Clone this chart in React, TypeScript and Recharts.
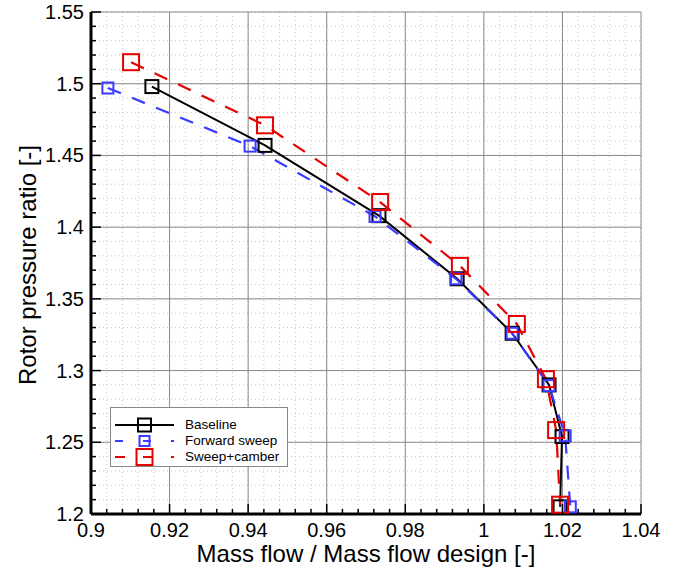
import {
  CartesianGrid,
  ComposedChart,
  Label,
  Legend,
  Line,
  XAxis,
  YAxis,
} from "recharts";

const baselineFlow = [0.9155, 0.9443, 0.9733, 0.9932, 1.0072, 1.0166, 1.0199, 1.0194];
const baselinePR = [1.498, 1.457, 1.408, 1.364, 1.326, 1.29, 1.254, 1.205];

const forwardFlow = [0.9043, 0.9405, 0.9723, 0.9929, 1.0072, 1.0166, 1.0207, 1.022];
const forwardPR = [1.497, 1.4565, 1.4075, 1.364, 1.326, 1.2895, 1.2545, 1.205];

const camberFlow = [0.9102, 0.9443, 0.9736, 0.9939, 1.0084, 1.0158, 1.0184, 1.0194];
const camberPR = [1.515, 1.471, 1.4175, 1.373, 1.3325, 1.294, 1.2585, 1.2065];

const majorX = [0.9, 0.92, 0.94, 0.96, 0.98, 1, 1.02, 1.04];
const majorY = [1.2, 1.25, 1.3, 1.35, 1.4, 1.45, 1.5, 1.55];

const FONT = "'Liberation Sans', Arial, Helvetica, sans-serif";
const BLUE = "#3b3bff";
const RED = "#e60000";

// 4 minor ticks between each pair of labelled ticks
function subdivide(major: number[]) {
  const out: number[] = [];
  for (let i = 0; i < major.length - 1; i++) {
    for (let k = 0; k < 5; k++) {
      out.push(+(major[i] + ((major[i + 1] - major[i]) * k) / 5).toFixed(4));
    }
  }
  out.push(major[major.length - 1]);
  return out;
}
const minorX = subdivide(majorX);
const minorY = subdivide(majorY);

const toPoints = (flow: number[], pr: number[]) => flow.map((f, i) => ({ flow: f, pr: pr[i] }));
const baseline = toPoints(baselineFlow, baselinePR);
const forward = toPoints(forwardFlow, forwardPR);
const camber = toPoints(camberFlow, camberPR);

const isMajor = (list: number[], v: number) => list.some((m) => Math.abs(m - v) < 1e-6);

function XTick({ x, y, payload }: any) {
  const major = isMajor(majorX, payload.value);
  return (
    <g>
      <line x1={x} y1={y} x2={x} y2={y - (major ? 10 : 5)} stroke="#000" strokeWidth={1.5} />
      {major && (
        <text x={x} y={y + 23} textAnchor="middle" fontSize={20} fontFamily={FONT} fill="#000">
          {String(payload.value)}
        </text>
      )}
    </g>
  );
}

function YTick({ x, y, payload }: any) {
  const major = isMajor(majorY, payload.value);
  return (
    <g>
      <line x1={x} y1={y} x2={x + (major ? 10 : 5)} y2={y} stroke="#000" strokeWidth={1.5} />
      {major && (
        <text x={x - 7} y={y + 7} textAnchor="end" fontSize={20} fontFamily={FONT} fill="#000">
          {String(payload.value)}
        </text>
      )}
    </g>
  );
}

const square = (size: number, color: string) => (props: any) => {
  const { cx, cy, index } = props;
  if (cx == null || cy == null) return <g key={`e${index}`} />;
  return (
    <rect
      key={`s${index}`}
      x={cx - size / 2}
      y={cy - size / 2}
      width={size}
      height={size}
      fill="none"
      stroke={color}
      strokeWidth={2}
    />
  );
};

const legendRows = [
  { name: "Baseline", color: "#000", dash: undefined, size: 13 },
  { name: "Forward sweep", color: BLUE, dash: "8 20", size: 10 },
  { name: "Sweep+camber", color: RED, dash: "10 18", size: 16 },
];

function LegendBox() {
  return (
    <div
      style={{
        border: "1px solid #888",
        background: "#fff",
        padding: "9px 8px 1px 4px",
        fontFamily: FONT,
        fontSize: 13.5,
        color: "#000",
        whiteSpace: "nowrap",
        width: "fit-content",
      }}
    >
      {legendRows.map((r) => (
        <div key={r.name} style={{ display: "flex", alignItems: "center", height: 16 }}>
          <svg width={59} height={16} style={{ marginRight: 11, overflow: "visible", flex: "none" }}>
            <line x1={0} y1={8} x2={59} y2={8} stroke={r.color} strokeWidth={2} strokeDasharray={r.dash} />
            <rect
              x={29.5 - r.size / 2}
              y={8 - r.size / 2}
              width={r.size}
              height={r.size}
              fill="none"
              stroke={r.color}
              strokeWidth={2}
            />
          </svg>
          <span style={{ lineHeight: "16px" }}>{r.name}</span>
        </div>
      ))}
    </div>
  );
}

export default function App() {
  return (
    <div style={{ position: "absolute", left: 0, top: 0, background: "#fff" }}>
      <ComposedChart width={676} height={572} margin={{ top: 12, right: 35, bottom: 0, left: 0 }}>
        <CartesianGrid stroke="#c8c8c8" strokeDasharray="1 3" />
        <CartesianGrid stroke="#8a8a8a" strokeWidth={1} verticalValues={majorX} horizontalValues={majorY} />
        <XAxis
          dataKey="flow"
          type="number"
          domain={[0.9, 1.04]}
          allowDataOverflow
          ticks={minorX}
          interval={0}
          tick={XTick}
          tickLine={false}
          tickSize={0}
          tickMargin={0}
          height={58}
          axisLine={{ stroke: "#000", strokeWidth: 3 }}
        >
          <Label
            content={({ viewBox }: any) => (
              <text
                x={viewBox.x + viewBox.width / 2}
                y={viewBox.y + 48}
                textAnchor="middle"
                fontSize={24}
                fontFamily={FONT}
                fill="#000"
              >
                Mass flow / Mass flow design [-]
              </text>
            )}
          />
        </XAxis>
        <YAxis
          dataKey="pr"
          type="number"
          domain={[1.2, 1.55]}
          allowDataOverflow
          ticks={minorY}
          interval={0}
          tick={YTick}
          tickLine={false}
          tickSize={0}
          tickMargin={0}
          width={91}
          axisLine={{ stroke: "#000", strokeWidth: 3 }}
        >
          <Label
            content={({ viewBox }: any) => {
              const cx = viewBox.x + 27;
              const cy = viewBox.y + viewBox.height / 2 + 2;
              return (
                <text
                  x={cx}
                  y={cy}
                  transform={`rotate(-90 ${cx} ${cy})`}
                  textAnchor="middle"
                  dominantBaseline="central"
                  fontSize={24}
                  fontFamily={FONT}
                  fill="#000"
                >
                  Rotor pressure ratio [-]
                </text>
              );
            }}
          />
        </YAxis>
        <Legend
          content={LegendBox}
          layout="horizontal"
          verticalAlign="middle"
          align="center"
          wrapperStyle={{ left: 110, top: 407, width: "auto", height: "auto" }}
        />
        <Line
          data={baseline}
          dataKey="pr"
          name="Baseline"
          type="linear"
          stroke="#000"
          strokeWidth={2}
          dot={square(13, "#000")}
          activeDot={false}
          isAnimationActive={false}
        />
        <Line
          data={forward}
          dataKey="pr"
          name="Forward sweep"
          type="linear"
          stroke={BLUE}
          strokeWidth={2.2}
          strokeDasharray="14 12"
          dot={square(11, BLUE)}
          activeDot={false}
          isAnimationActive={false}
        />
        <Line
          data={camber}
          dataKey="pr"
          name="Sweep+camber"
          type="linear"
          stroke={RED}
          strokeWidth={2.2}
          strokeDasharray="14 12"
          dot={square(16, RED)}
          activeDot={false}
          isAnimationActive={false}
        />
      </ComposedChart>
    </div>
  );
}
